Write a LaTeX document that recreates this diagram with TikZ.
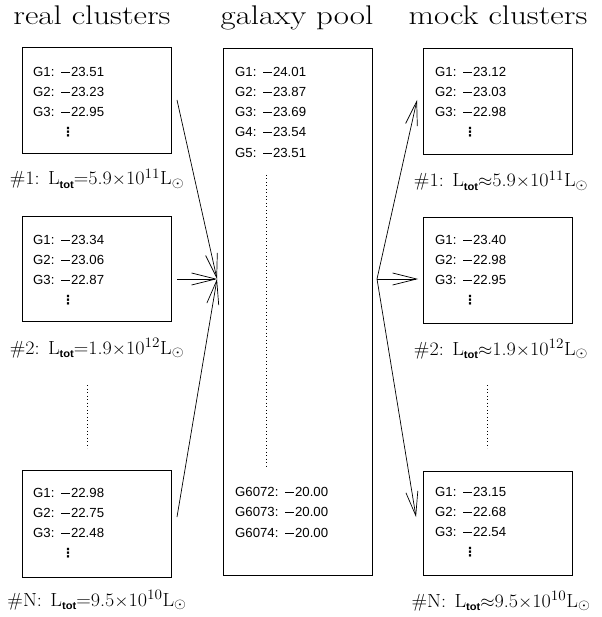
\documentclass[tikz,border=0pt]{standalone}
\usepackage{fontspec}
\newfontfamily\boxfont{Liberation Sans}
\newfontfamily\dvfont{DejaVu Sans}
\usetikzlibrary{arrows.meta}
\tikzset{
  title/.style={font=\fontsize{27}{27}\selectfont, anchor=base, xscale=1.22, transform shape},
  cbox/.style={draw, line width=0.8pt, minimum width=149pt, inner sep=0pt},
  entry/.style={font=\boxfont\fontsize{13.2}{13.2}\selectfont, anchor=west, inner sep=0pt},
  vd/.style={font=\dvfont\bfseries\fontsize{12.5}{12.5}\selectfont, inner sep=0pt},
  lum/.style={font=\fontsize{19}{19}\selectfont, anchor=base, inner sep=0pt, xscale=1.06, transform shape},
  dotline/.style={line width=0.9pt, dash pattern=on 0.9pt off 2.6pt},
  arr/.style={line width=0.7pt, -{Straight Barb[length=24pt, width=12pt, line width=0.7pt]}}
}
\newcommand{\Lt}{L\raisebox{-3.5pt}{\boxfont\bfseries\fontsize{10.5}{10.5}\selectfont tot}}
\newcommand{\mm}{\kern2pt\rule[3.6pt]{8.5pt}{0.9pt}\kern1.2pt}
\newcommand{\gap}{\hspace{8pt}}
\begin{document}
\begin{tikzpicture}[x=1pt, y=-1pt]
\useasboundingbox (0,0) rectangle (601,617);
% titles
\node[title] (t1) at (92,25) {real clusters};
\node[title] (t2) at (297,25) {galaxy pool};
\node[title] (t3) at (498,25) {mock clusters};
% left boxes
\node[cbox, minimum height=106pt] (L1) at (96.5,100) {};
\node[cbox, minimum height=105pt] (L2) at (96.5,269) {};
\node[cbox, minimum height=107pt] (LN) at (96.5,523.5) {};
% middle box
\node[cbox, minimum height=527pt] (M) at (297.5,311.5) {};
% right boxes
\node[cbox, minimum height=106pt] (R1) at (497.5,101) {};
\node[cbox, minimum height=106pt] (R2) at (497.5,270) {};
\node[cbox, minimum height=104pt] (RN) at (497.5,523) {};
% left entries
\node[entry] (l11) at (33,72) {G1: \mm23.51};
\node[entry] (l12) at (33,92) {G2: \mm23.23};
\node[entry] (l13) at (33,112) {G3: \mm22.95};
\node[vd] (l14) at (68,132) {⋮};
\node[entry] (l21) at (33,240) {G1: \mm23.34};
\node[entry] (l22) at (33,260) {G2: \mm23.06};
\node[entry] (l23) at (33,280) {G3: \mm22.87};
\node[vd] (l24) at (68,300) {⋮};
\node[entry] (lN1) at (33,493) {G1: \mm22.98};
\node[entry] (lN2) at (33,513) {G2: \mm22.75};
\node[entry] (lN3) at (33,533) {G3: \mm22.48};
\node[vd] (lN4) at (68,553) {⋮};
% middle entries
\node[entry] (m1) at (235,72) {G1: \mm24.01};
\node[entry] (m2) at (235,92) {G2: \mm23.87};
\node[entry] (m3) at (235,112) {G3: \mm23.69};
\node[entry] (m4) at (235,132) {G4: \mm23.54};
\node[entry] (m5) at (235,153) {G5: \mm23.51};
\node[entry] (m6) at (235,492) {G6072: \mm20.00};
\node[entry] (m7) at (235,512) {G6073: \mm20.00};
\node[entry] (m8) at (235,533) {G6074: \mm20.00};
% right entries
\node[entry] (r11) at (435,72) {G1: \mm23.12};
\node[entry] (r12) at (435,92) {G2: \mm23.03};
\node[entry] (r13) at (435,112) {G3: \mm22.98};
\node[vd] (r14) at (470,132) {⋮};
\node[entry] (r21) at (435,240) {G1: \mm23.40};
\node[entry] (r22) at (435,260) {G2: \mm22.98};
\node[entry] (r23) at (435,280) {G3: \mm22.95};
\node[vd] (r24) at (470,300) {⋮};
\node[entry] (rN1) at (435,492) {G1: \mm23.15};
\node[entry] (rN2) at (435,512) {G2: \mm22.68};
\node[entry] (rN3) at (435,532) {G3: \mm22.54};
\node[vd] (rN4) at (470,552) {⋮};
% luminosity labels
\node[lum] (la1) at (97,185) {\#1:\gap\Lt=5.9$\times$10$^{11}$L$_\odot$};
\node[lum] (la2) at (97,354) {\#2:\gap\Lt=1.9$\times$10$^{12}$L$_\odot$};
\node[lum] (laN) at (97,606) {\#N:\gap\Lt=9.5$\times$10$^{10}$L$_\odot$};
\node[lum] (ra1) at (501,187) {\#1:\gap\Lt$\approx$5.9$\times$10$^{11}$L$_\odot$};
\node[lum] (ra2) at (501,355) {\#2:\gap\Lt$\approx$1.9$\times$10$^{12}$L$_\odot$};
\node[lum] (raN) at (501,607) {\#N:\gap\Lt$\approx$9.5$\times$10$^{10}$L$_\odot$};
% dotted lines
\coordinate (dl1) at (87,385); \coordinate (dl2) at (87,448);
\coordinate (dm1) at (266,175); \coordinate (dm2) at (266,468);
\coordinate (dr1) at (487,385); \coordinate (dr2) at (487,448);
\draw[dotline] (dl1) -- (dl2);
\draw[dotline] (dm1) -- (dm2);
\draw[dotline] (dr1) -- (dr2);
% arrows
\coordinate (pin) at (217,279);
\coordinate (pout) at (377,279);
\coordinate (s1) at (177,100);
\coordinate (s2) at (177,279);
\coordinate (s3) at (177,517);
\coordinate (e1) at (417,100);
\coordinate (e2) at (418,279);
\coordinate (e3) at (416,517);
\draw[arr] (s1) -- (pin);
\draw[arr] (s2) -- (pin);
\draw[arr] (s3) -- (pin);
\draw[arr] (pout) -- (e1);
\draw[arr] (pout) -- (e2);
\draw[arr] (pout) -- (e3);
\end{tikzpicture}
\end{document}
